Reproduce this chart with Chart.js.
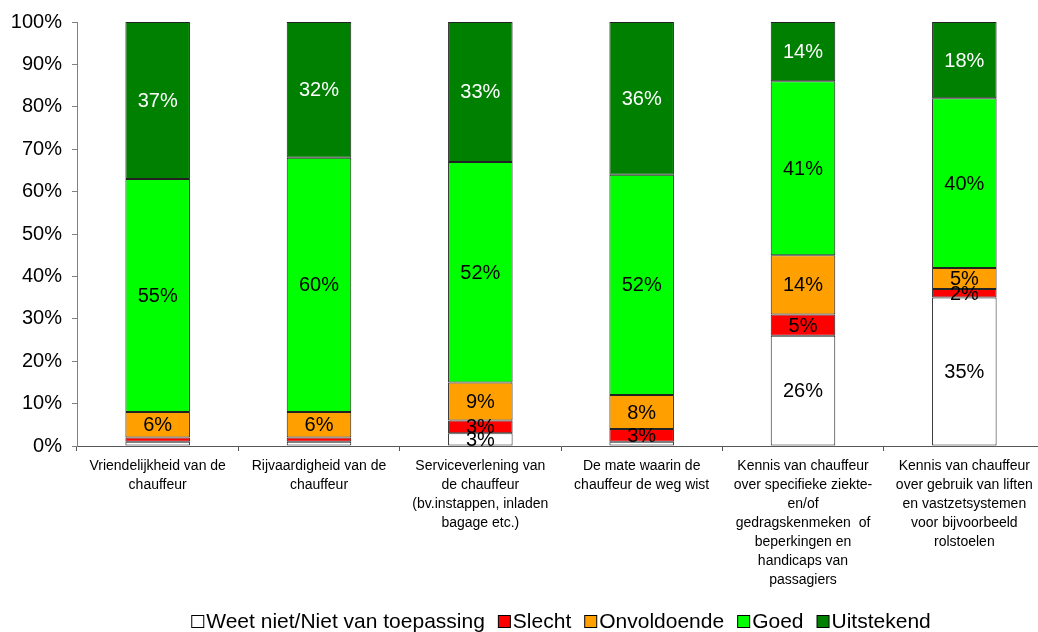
<!DOCTYPE html>
<html><head><meta charset="utf-8">
<script src="https://cdn.jsdelivr.net/npm/chart.js@4/dist/chart.umd.min.js"></script>
<style>
html,body{margin:0;padding:0;overflow:hidden;background:#fff;width:1038px;height:632px}
#wrap{position:absolute;left:0;top:0;width:1046px;height:632px}
</style></head>
<body><div id="wrap"><canvas id="c" width="1046" height="632"></canvas></div>
<script>
const categories = [
  ["Vriendelijkheid van de", "chauffeur"],
  ["Rijvaardigheid van de", "chauffeur"],
  ["Serviceverlening van", "de chauffeur", "(bv.instappen, inladen", "bagage etc.)"],
  ["De mate waarin de", "chauffeur de weg wist"],
  ["Kennis van chauffeur", "over specifieke ziekte-", "en/of", "gedragskenmeken  of", "beperkingen en", "handicaps van", "passagiers"],
  ["Kennis van chauffeur", "over gebruik van liften", "en vastzetsystemen", "voor bijvoorbeeld", "rolstoelen"]
];
const seriesNames = ["Weet niet/Niet van toepassing", "Slecht", "Onvoldoende", "Goed", "Uitstekend"];
const weetNiet    = [1, 1, 3, 1, 26, 35];
const slecht      = [1, 1, 3, 3, 5, 2];
const onvoldoende = [6, 6, 9, 8, 14, 5];
const goed        = [55, 60, 52, 52, 41, 40];
const uitstekend  = [37, 32, 33, 36, 14, 18];
const yTickValues = [0, 10, 20, 30, 40, 50, 60, 70, 80, 90, 100];

const colors = ["#FFFFFF", "#FF0000", "#FFA000", "#00FF00", "#008000"];
const labelColors = ["#000", "#000", "#000", "#000", "#FFF"];
const seriesValues = [weetNiet, slecht, onvoldoende, goed, uitstekend];
const FONT = "'Liberation Sans', Arial, sans-serif";

const datasets = seriesValues.map((vals, i) => ({
  label: seriesNames[i],
  data: vals,
  backgroundColor: colors[i],
  borderColor: "#222",
  borderWidth: 1,
  borderSkipped: false,
  categoryPercentage: 1.0,
  barPercentage: 0.4
}));

const valueLabels = {
  id: "valueLabels",
  afterDatasetsDraw(chart) {
    const ctx = chart.ctx;
    ctx.save();
    ctx.font = "20px " + FONT;
    ctx.textAlign = "center";
    ctx.textBaseline = "middle";
    chart.data.datasets.forEach((ds, di) => {
      const meta = chart.getDatasetMeta(di);
      meta.data.forEach((el, i) => {
        const v = ds.data[i];
        if (v < 2) return;
        ctx.fillStyle = labelColors[di];
        ctx.fillText(v + "%", el.x, (el.y + el.base) / 2 + 1);
      });
    });
    ctx.restore();
  }
};

const customLegend = {
  id: "customLegend",
  afterDraw(chart) {
    const ctx = chart.ctx;
    ctx.save();
    ctx.font = "21px " + FONT;
    ctx.textBaseline = "middle";
    ctx.textAlign = "left";
    const box = 12, gap = 3, spacing = 13;
    const widths = seriesNames.map(n => ctx.measureText(n).width);
    let total = 0;
    widths.forEach(w => total += box + gap + w);
    total += spacing * (seriesNames.length - 1);
    const ca = chart.chartArea;
    let x = (ca.left + ca.right) / 2 - total / 2;
    const yMid = 622;
    seriesNames.forEach((n, i) => {
      ctx.fillStyle = colors[i];
      ctx.fillRect(x + 0.5, yMid - 6.5, box, box);
      ctx.strokeStyle = "#000";
      ctx.lineWidth = 1;
      ctx.strokeRect(x + 0.5, yMid - 6.5, box, box);
      ctx.fillStyle = "#000";
      ctx.fillText(n, x + box + gap, yMid);
      x += box + gap + widths[i] + spacing;
    });
    ctx.restore();
  }
};

new Chart(document.getElementById("c"), {
  type: "bar",
  data: { labels: categories, datasets: datasets },
  plugins: [valueLabels, customLegend],
  options: {
    responsive: false,
    animation: false,
    devicePixelRatio: 1,
    layout: { padding: { top: 21, right: 1, bottom: 0, left: 0 } },
    plugins: { legend: { display: false }, tooltip: { enabled: false } },
    scales: {
      x: {
        stacked: true,
        grid: { drawOnChartArea: false, drawTicks: true, tickLength: 5, color: "#555", offset: true },
        border: { display: true, color: "#555", width: 1 },
        ticks: {
          color: "#000", font: { family: FONT, size: 14, lineHeight: "19px" },
          padding: 6, maxRotation: 0, minRotation: 0, autoSkip: false
        },
        afterFit(scale) { scale.height = 186; }
      },
      y: {
        stacked: true,
        min: 0, max: 100,
        afterBuildTicks(scale) { scale.ticks = yTickValues.map(v => ({ value: v })); },
        grid: { drawOnChartArea: false, drawTicks: true, tickLength: 5, color: "#808080" },
        border: { display: true, color: "#808080", width: 1 },
        ticks: {
          color: "#000", font: { family: FONT, size: 20 }, padding: 10,
          callback: v => v + "%"
        },
        afterFit(scale) { scale.width = 77; }
      }
    }
  }
});
</script>
</body></html>
